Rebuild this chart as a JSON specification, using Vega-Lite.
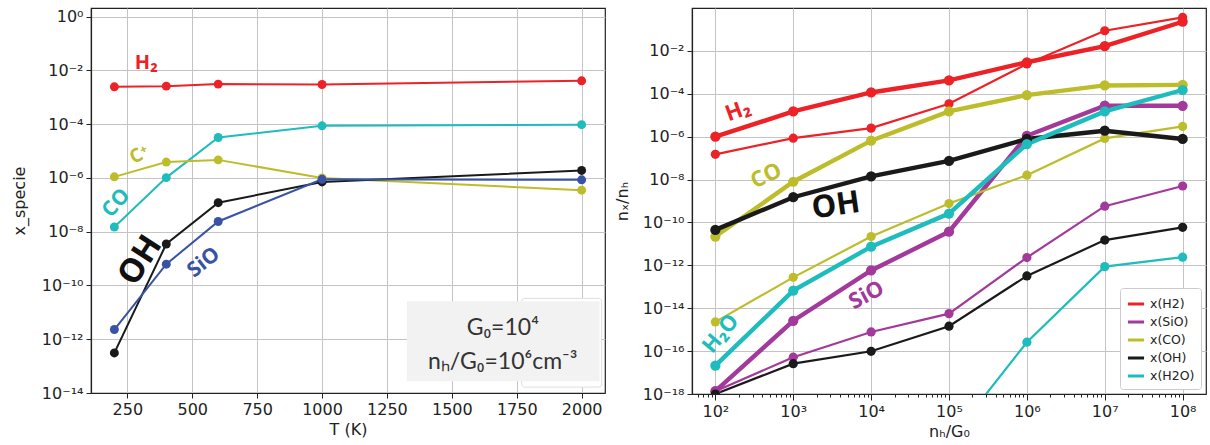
{
  "$schema": "https://vega.github.io/schema/vega-lite/v6.json",
  "padding": {"left": 10, "top": 7, "right": 1, "bottom": 0},
  "spacing": 7,
  "resolve": {"scale": {"color": "independent", "fill": "independent", "size": "independent", "strokeWidth": "independent"}, "legend": {"color": "independent", "fill": "independent"}},
  "config": {
    "font": "DejaVu Sans",
    "view": {"stroke": "#222222", "strokeWidth": 1.2},
    "axis": {
      "domainColor": "#222222", "domainWidth": 1.2, "tickColor": "#222222", "tickSize": 5,
      "labelColor": "#222222", "titleColor": "#222222", "labelFontSize": 16, "titleFontSize": 16,
      "titleFontWeight": "normal", "labelFont": "DejaVu Sans", "titleFont": "DejaVu Sans",
      "gridColor": "#c4c4c4", "gridWidth": 1, "labelPadding": 3
    }
  },
  "hconcat": [
    {
      "width": 514,
      "height": 385,
      "encoding": {
        "x": {"field": "T", "type": "quantitative", "scale": {"domain": [110, 2090], "nice": false, "zero": false},
              "axis": {"values": [250, 500, 750, 1000, 1250, 1500, 1750, 2000], "title": "T (K)", "format": "d", "titlePadding": 4}},
        "y": {"field": "v", "type": "quantitative", "scale": {"type": "log", "domain": [1e-14, 2.1], "nice": false},
              "axis": {"values": [1e-14, 1e-12, 1e-10, 1e-8, 1e-6, 1e-4, 1e-2, 1], "title": "x_specie", "titlePadding": 14,
                       "labelExpr": "'10' + replace(replace(replace(replace(replace(replace(replace(replace(replace(replace(replace(toString(round(log(datum.value)/LN10)),'-','⁻'),'0','⁰'),'1','¹'),'2','²'),'3','³'),'4','⁴'),'5','⁵'),'6','⁶'),'7','⁷'),'8','⁸'),'9','⁹')"}}
      },
      "layer": [
        {
          "data": {"values": [{"T": 1769, "T2": 2077, "v": 3.3e-11, "v2": 1.66e-14}]},
          "mark": {"type": "rect", "fill": "#ffffff", "stroke": "#dddddd", "strokeWidth": 1, "cornerRadius": 3},
          "encoding": {"x2": {"field": "T2"}, "y2": {"field": "v2"}}
        },
        {
          "data": {"values": [{"T": 1327, "T2": 2069, "v": 2.57e-11, "v2": 2.75e-14}]},
          "mark": {"type": "rect", "fill": "#f2f2f2", "stroke": null},
          "encoding": {"x2": {"field": "T2"}, "y2": {"field": "v2"}}
        },
        {
          "data": {"name": "left"},
          "mark": {"type": "line", "strokeWidth": 2},
          "encoding": {
            "color": {"field": "species", "type": "nominal", "scale": {"domain": ["H2", "CO", "C+", "OH", "SiO"], "range": ["#ec2227", "#1ebcbc", "#bdbd2c", "#1a1a1a", "#3953a4"]}, "legend": null}
          }
        },
        {
          "data": {"name": "left"},
          "mark": {"type": "point", "filled": true, "opacity": 1, "size": 80},
          "encoding": {
            "color": {"field": "species", "type": "nominal", "scale": {"domain": ["H2", "CO", "C+", "OH", "SiO"], "range": ["#ec2227", "#1ebcbc", "#bdbd2c", "#1a1a1a", "#3953a4"]}, "legend": null}
          }
        },
        {
          "data": {"values": [{"T": 323, "v": 0.0186, "label": "H₂"}]},
          "mark": {"type": "text", "font": "Open Sans", "fontSize": 20, "fontWeight": "bold", "color": "#ec2227"},
          "encoding": {"text": {"field": "label"}}
        },
        {
          "data": {"values": [{"T": 296, "v": 7.5e-6, "label": "C⁺"}]},
          "mark": {"type": "text", "font": "Open Sans", "fontSize": 19, "fontWeight": "bold", "color": "#bdbd2c", "angle": 332},
          "encoding": {"text": {"field": "label"}}
        },
        {
          "data": {"values": [{"T": 208, "v": 1.15e-7, "label": "CO"}]},
          "mark": {"type": "text", "font": "Open Sans", "fontSize": 21, "fontWeight": "bold", "color": "#1ebcbc", "angle": 312},
          "encoding": {"text": {"field": "label"}}
        },
        {
          "data": {"values": [{"T": 300, "v": 8.5e-10, "label": "OH"}]},
          "mark": {"type": "text", "font": "Open Sans", "fontSize": 33, "fontWeight": "bold", "color": "#111111", "angle": 303},
          "encoding": {"text": {"field": "label"}}
        },
        {
          "data": {"values": [{"T": 545, "v": 7e-10, "label": "SiO"}]},
          "mark": {"type": "text", "font": "Open Sans", "fontSize": 21, "fontWeight": "bold", "color": "#3953a4", "angle": 322},
          "encoding": {"text": {"field": "label"}}
        },
        {
          "data": {"values": [{"T": 1696, "v": 2.6e-12, "label": "G₀=10⁴"}]},
          "mark": {"type": "text", "font": "Lato", "fontSize": 23, "color": "#333333"},
          "encoding": {"text": {"field": "label"}}
        },
        {
          "data": {"values": [{"T": 1696, "v": 1.4e-13, "label": "nₕ/G₀=10⁶cm⁻³"}]},
          "mark": {"type": "text", "font": "Lato", "fontSize": 23, "color": "#333333"},
          "encoding": {"text": {"field": "label"}}
        }
      ]
    },
    {
      "width": 514,
      "height": 386,
      "encoding": {
        "x": {"field": "n", "type": "quantitative", "scale": {"type": "log", "domain": [50.12, 199500000], "nice": false},
              "axis": {"title": "nₕ/G₀", "titlePadding": 4,
                       "values": [60,70,80,90,100,200,300,400,500,600,700,800,900,1000,2000,3000,4000,5000,6000,7000,8000,9000,10000,20000,30000,40000,50000,60000,70000,80000,90000,100000,200000,300000,400000,500000,600000,700000,800000,900000,1000000,2000000,3000000,4000000,5000000,6000000,7000000,8000000,9000000,10000000,20000000,30000000,40000000,50000000,60000000,70000000,80000000,90000000,100000000],
                       "tickSize": {"condition": {"test": "abs(log(datum.value)/LN10 - round(log(datum.value)/LN10)) < 0.001", "value": 6}, "value": 3},
                       "gridOpacity": {"condition": {"test": "abs(log(datum.value)/LN10 - round(log(datum.value)/LN10)) < 0.001", "value": 1}, "value": 0},
                       "labelExpr": "abs(log(datum.value)/LN10 - round(log(datum.value)/LN10)) < 0.001 ? '10' + replace(replace(replace(replace(replace(replace(replace(replace(replace(replace(replace(toString(round(log(datum.value)/LN10)),'-','⁻'),'0','⁰'),'1','¹'),'2','²'),'3','³'),'4','⁴'),'5','⁵'),'6','⁶'),'7','⁷'),'8','⁸'),'9','⁹') : ''"}},
        "y": {"field": "v", "type": "quantitative", "scale": {"type": "log", "domain": [1e-18, 1], "nice": false},
              "axis": {"values": [1e-18, 1e-16, 1e-14, 1e-12, 1e-10, 1e-8, 1e-6, 1e-4, 1e-2], "title": "nₓ/nₕ", "titlePadding": 12,
                       "labelExpr": "'10' + replace(replace(replace(replace(replace(replace(replace(replace(replace(replace(replace(toString(round(log(datum.value)/LN10)),'-','⁻'),'0','⁰'),'1','¹'),'2','²'),'3','³'),'4','⁴'),'5','⁵'),'6','⁶'),'7','⁷'),'8','⁸'),'9','⁹')"}}
      },
      "layer": [
        {
          "data": {"name": "right"},
          "mark": {"type": "line", "clip": true},
          "encoding": {
            "color": {"field": "species", "type": "nominal",
                      "scale": {"domain": ["x(H2)", "x(SiO)", "x(CO)", "x(OH)", "x(H2O)"], "range": ["#ec2227", "#a3399a", "#bdbd2c", "#1a1a1a", "#1ebcbc"]},
                      "legend": {"title": null, "orient": "bottom-right", "offset": 5, "symbolType": "stroke", "symbolStrokeWidth": 3, "symbolSize": 260,
                                 "labelFontSize": 12.5, "labelFont": "DejaVu Sans", "labelColor": "#222222", "padding": 6, "rowPadding": 1,
                                 "fillColor": "#ffffff", "strokeColor": "#cccccc", "cornerRadius": 3}},
            "strokeWidth": {"field": "model", "type": "nominal", "scale": {"domain": ["thick", "thin"], "range": [4.4, 2.2]}, "legend": null}
          }
        },
        {
          "data": {"name": "right"},
          "mark": {"type": "point", "filled": true, "opacity": 1, "clip": true},
          "encoding": {
            "fill": {"field": "species", "type": "nominal",
                     "scale": {"domain": ["x(H2)", "x(SiO)", "x(CO)", "x(OH)", "x(H2O)"], "range": ["#ec2227", "#a3399a", "#bdbd2c", "#1a1a1a", "#1ebcbc"]},
                     "legend": null},
            "size": {"field": "model", "type": "nominal", "scale": {"domain": ["thick", "thin"], "range": [105, 85]}, "legend": null}
          }
        },
        {
          "data": {"values": [{"n": 195, "v": 1.66e-5, "label": "H₂"}]},
          "mark": {"type": "text", "font": "Open Sans", "fontSize": 22, "fontWeight": "bold", "color": "#ec2227", "angle": 340},
          "encoding": {"text": {"field": "label"}}
        },
        {
          "data": {"values": [{"n": 447, "v": 1.5e-8, "label": "CO"}]},
          "mark": {"type": "text", "font": "Open Sans", "fontSize": 22, "fontWeight": "bold", "color": "#bdbd2c", "angle": 335},
          "encoding": {"text": {"field": "label"}}
        },
        {
          "data": {"values": [{"n": 3548, "v": 5.75e-10, "label": "OH"}]},
          "mark": {"type": "text", "font": "Open Sans", "fontSize": 31, "fontWeight": "bold", "color": "#111111", "angle": 352},
          "encoding": {"text": {"field": "label"}}
        },
        {
          "data": {"values": [{"n": 8710, "v": 4.1e-14, "label": "SiO"}]},
          "mark": {"type": "text", "font": "Open Sans", "fontSize": 22, "fontWeight": "bold", "color": "#a3399a", "angle": 332},
          "encoding": {"text": {"field": "label"}}
        },
        {
          "data": {"values": [{"n": 117, "v": 6.6e-16, "label": "H₂O"}]},
          "mark": {"type": "text", "font": "Open Sans", "fontSize": 22, "fontWeight": "bold", "color": "#1ebcbc", "angle": 310},
          "encoding": {"text": {"field": "label"}}
        }
      ]
    }
  ],
  "datasets": {
    "left": [
      {"T": 200, "v": 2.45e-3, "species": "H2"}, {"T": 400, "v": 2.6e-3, "species": "H2"}, {"T": 600, "v": 3.1e-3, "species": "H2"}, {"T": 1000, "v": 3.0e-3, "species": "H2"}, {"T": 2000, "v": 4.1e-3, "species": "H2"},
      {"T": 200, "v": 1.5e-8, "species": "CO"}, {"T": 400, "v": 1.03e-6, "species": "CO"}, {"T": 600, "v": 3.2e-5, "species": "CO"}, {"T": 1000, "v": 8.7e-5, "species": "CO"}, {"T": 2000, "v": 9.6e-5, "species": "CO"},
      {"T": 200, "v": 1.1e-6, "species": "C+"}, {"T": 400, "v": 3.9e-6, "species": "C+"}, {"T": 600, "v": 4.7e-6, "species": "C+"}, {"T": 1000, "v": 1.0e-6, "species": "C+"}, {"T": 2000, "v": 3.5e-7, "species": "C+"},
      {"T": 200, "v": 3.1e-13, "species": "OH"}, {"T": 400, "v": 3.5e-9, "species": "OH"}, {"T": 600, "v": 1.2e-7, "species": "OH"}, {"T": 1000, "v": 7.1e-7, "species": "OH"}, {"T": 2000, "v": 1.9e-6, "species": "OH"},
      {"T": 200, "v": 2.3e-12, "species": "SiO"}, {"T": 400, "v": 6.2e-10, "species": "SiO"}, {"T": 600, "v": 2.4e-8, "species": "SiO"}, {"T": 1000, "v": 8.9e-7, "species": "SiO"}, {"T": 2000, "v": 8.5e-7, "species": "SiO"}
    ],
    "right": [
      {"n": 1e2, "v": 1.0e-6, "species": "x(H2)", "model": "thick"}, {"n": 1e3, "v": 1.5e-5, "species": "x(H2)", "model": "thick"}, {"n": 1e4, "v": 1.15e-4, "species": "x(H2)", "model": "thick"}, {"n": 1e5, "v": 4.2e-4, "species": "x(H2)", "model": "thick"}, {"n": 1e6, "v": 2.95e-3, "species": "x(H2)", "model": "thick"}, {"n": 1e7, "v": 1.66e-2, "species": "x(H2)", "model": "thick"}, {"n": 1e8, "v": 0.229, "species": "x(H2)", "model": "thick"},
      {"n": 1e2, "v": 1.5e-7, "species": "x(H2)", "model": "thin"}, {"n": 1e3, "v": 8.5e-7, "species": "x(H2)", "model": "thin"}, {"n": 1e4, "v": 2.5e-6, "species": "x(H2)", "model": "thin"}, {"n": 1e5, "v": 3.4e-5, "species": "x(H2)", "model": "thin"}, {"n": 1e6, "v": 2.45e-3, "species": "x(H2)", "model": "thin"}, {"n": 1e7, "v": 8.7e-2, "species": "x(H2)", "model": "thin"}, {"n": 1e8, "v": 0.363, "species": "x(H2)", "model": "thin"},
      {"n": 1e2, "v": 1.35e-18, "species": "x(SiO)", "model": "thick"}, {"n": 1e3, "v": 2.6e-15, "species": "x(SiO)", "model": "thick"}, {"n": 1e4, "v": 5.75e-13, "species": "x(SiO)", "model": "thick"}, {"n": 1e5, "v": 3.7e-11, "species": "x(SiO)", "model": "thick"}, {"n": 1e6, "v": 1.1e-6, "species": "x(SiO)", "model": "thick"}, {"n": 1e7, "v": 2.8e-5, "species": "x(SiO)", "model": "thick"}, {"n": 1e8, "v": 2.75e-5, "species": "x(SiO)", "model": "thick"},
      {"n": 1e2, "v": 1.35e-18, "species": "x(SiO)", "model": "thin"}, {"n": 1e3, "v": 5.2e-17, "species": "x(SiO)", "model": "thin"}, {"n": 1e4, "v": 7.8e-16, "species": "x(SiO)", "model": "thin"}, {"n": 1e5, "v": 5.6e-15, "species": "x(SiO)", "model": "thin"}, {"n": 1e6, "v": 2.3e-12, "species": "x(SiO)", "model": "thin"}, {"n": 1e7, "v": 5.75e-10, "species": "x(SiO)", "model": "thin"}, {"n": 1e8, "v": 5.0e-9, "species": "x(SiO)", "model": "thin"},
      {"n": 1e2, "v": 2.2e-11, "species": "x(CO)", "model": "thick"}, {"n": 1e3, "v": 7.9e-9, "species": "x(CO)", "model": "thick"}, {"n": 1e4, "v": 6.5e-7, "species": "x(CO)", "model": "thick"}, {"n": 1e5, "v": 1.5e-5, "species": "x(CO)", "model": "thick"}, {"n": 1e6, "v": 8.7e-5, "species": "x(CO)", "model": "thick"}, {"n": 1e7, "v": 2.45e-4, "species": "x(CO)", "model": "thick"}, {"n": 1e8, "v": 2.6e-4, "species": "x(CO)", "model": "thick"},
      {"n": 1e2, "v": 2.3e-15, "species": "x(CO)", "model": "thin"}, {"n": 1e3, "v": 2.75e-13, "species": "x(CO)", "model": "thin"}, {"n": 1e4, "v": 2.2e-11, "species": "x(CO)", "model": "thin"}, {"n": 1e5, "v": 7.6e-10, "species": "x(CO)", "model": "thin"}, {"n": 1e6, "v": 1.6e-8, "species": "x(CO)", "model": "thin"}, {"n": 1e7, "v": 8.3e-7, "species": "x(CO)", "model": "thin"}, {"n": 1e8, "v": 3.0e-6, "species": "x(CO)", "model": "thin"},
      {"n": 1e2, "v": 4.5e-11, "species": "x(OH)", "model": "thick"}, {"n": 1e3, "v": 1.5e-9, "species": "x(OH)", "model": "thick"}, {"n": 1e4, "v": 1.4e-8, "species": "x(OH)", "model": "thick"}, {"n": 1e5, "v": 7.4e-8, "species": "x(OH)", "model": "thick"}, {"n": 1e6, "v": 7.8e-7, "species": "x(OH)", "model": "thick"}, {"n": 1e7, "v": 1.9e-6, "species": "x(OH)", "model": "thick"}, {"n": 1e8, "v": 7.8e-7, "species": "x(OH)", "model": "thick"},
      {"n": 1e2, "v": 1.0e-18, "species": "x(OH)", "model": "thin"}, {"n": 1e3, "v": 2.6e-17, "species": "x(OH)", "model": "thin"}, {"n": 1e4, "v": 9.8e-17, "species": "x(OH)", "model": "thin"}, {"n": 1e5, "v": 1.45e-15, "species": "x(OH)", "model": "thin"}, {"n": 1e6, "v": 3.2e-13, "species": "x(OH)", "model": "thin"}, {"n": 1e7, "v": 1.5e-11, "species": "x(OH)", "model": "thin"}, {"n": 1e8, "v": 5.9e-11, "species": "x(OH)", "model": "thin"},
      {"n": 1e2, "v": 2.1e-17, "species": "x(H2O)", "model": "thick"}, {"n": 1e3, "v": 6.6e-14, "species": "x(H2O)", "model": "thick"}, {"n": 1e4, "v": 7.4e-12, "species": "x(H2O)", "model": "thick"}, {"n": 1e5, "v": 2.6e-10, "species": "x(H2O)", "model": "thick"}, {"n": 1e6, "v": 4.5e-7, "species": "x(H2O)", "model": "thick"}, {"n": 1e7, "v": 1.5e-5, "species": "x(H2O)", "model": "thick"}, {"n": 1e8, "v": 1.5e-4, "species": "x(H2O)", "model": "thick"},
      {"n": 1e5, "v": 6.3e-21, "species": "x(H2O)", "model": "thin"}, {"n": 1e6, "v": 2.6e-16, "species": "x(H2O)", "model": "thin"}, {"n": 1e7, "v": 8.7e-13, "species": "x(H2O)", "model": "thin"}, {"n": 1e8, "v": 2.4e-12, "species": "x(H2O)", "model": "thin"}
    ]
  }
}
